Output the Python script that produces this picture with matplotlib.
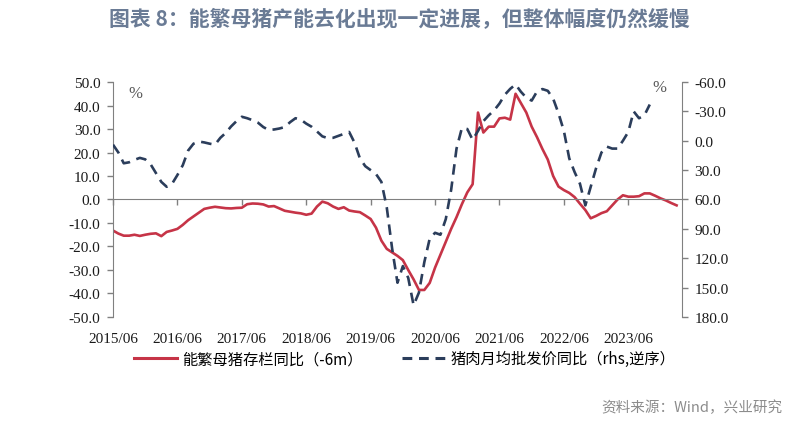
import matplotlib
matplotlib.use("Agg")
import matplotlib.pyplot as plt
from matplotlib.lines import Line2D

plt.rcParams['font.family'] = ['Noto Sans CJK SC', 'DejaVu Sans']

# months since 2015/06
year_labels = ['2015/06', '2016/06', '2017/06', '2018/06', '2019/06',
               '2020/06', '2021/06', '2022/06', '2023/06']
year_ticks = [12 * i for i in range(len(year_labels))]

# 能繁母猪存栏同比（-6m），左轴
sow_yoy = [
    -13.2, -14.5, -15.4, -15.4, -15.0, -15.5, -15.0, -14.6, -14.4, -15.6,
    -13.8, -13.2, -12.5, -10.8, -8.8, -7.2, -5.6, -4.0, -3.5, -3.1,
    -3.4, -3.7, -3.8, -3.6, -3.5, -2.0, -1.7, -1.8, -2.1, -3.0,
    -2.8, -3.8, -4.8, -5.2, -5.6, -5.9, -6.5, -6.0, -3.0, -0.9,
    -1.6, -3.0, -4.0, -3.3, -4.7, -5.1, -5.4, -6.8, -8.3, -12.0,
    -17.5, -21.0, -22.5, -24.0, -25.8, -30.0, -34.0, -38.5, -38.5, -35.5,
    -29.0, -23.5, -18.0, -12.5, -7.5, -2.0, 3.0, 6.5, 37.0, 28.5,
    31.0, 31.0, 34.5, 34.8, 34.0, 45.0, 41.0, 37.0, 31.0, 26.5,
    21.5, 17.0, 10.0, 5.5, 4.0, 2.8, 1.0, -1.8, -4.5, -8.0,
    -7.0, -5.8, -5.0, -2.5, 0.0, 1.8, 1.2, 1.2, 1.4, 2.6,
    2.6, 1.6, 0.5, -0.4, -1.5, -2.5,
]

# 猪肉月均批发价同比（rhs, 逆序）
pork_yoy = [
    4, 12, 23, 22, 19.5, 17.5, 19, 24, 33, 42,
    47, 44, 35, 25, 10, 3, 0.8, 1.7, 3, 4,
    -3, -8, -14.6, -20, -24.5, -23, -21, -18.5, -14, -11,
    -11.5, -12.5, -14, -19, -23, -21.5, -17.5, -14.3, -9.5, -4.5,
    -2.7, -3, -5, -7, -9, 2, 18, 26, 30, 34,
    42, 68, 110, 145, 128, 140, 168, 155, 124, 100,
    94, 96, 80, 50, 8, -13, -12, -1, -10, -20,
    -26, -31, -38, -47, -53, -57.5, -50, -44, -41, -50.4,
    -52.8, -51, -43, -28, -10, 18, 32, 44, 66, 47,
    28, 12, 6, 8, 8, 0, -9, -30, -23, -26,
    -37,
]

left_ticks = [-50, -40, -30, -20, -10, 0, 10, 20, 30, 40, 50]
right_ticks = [-60, -30, 0, 30, 60, 90, 120, 150, 180]

red = '#c63447'
navy = '#2b3d5b'
axis_gray = '#808080'
serif = 'Liberation Serif'

fig = plt.figure(figsize=(7.98, 4.27), dpi=100)
ax = fig.add_axes([0.1416, 0.2553, 0.713, 0.5503])
ax2 = ax.twinx()

ax.plot(range(len(sow_yoy)), sow_yoy, color=red, lw=1.9, solid_joinstyle='round')
ax2.plot(range(len(pork_yoy)), pork_yoy, color=navy, lw=1.9, dashes=(4, 2.6))

ax.set_xlim(0, 106)
ax.set_ylim(-50, 50)
ax2.set_ylim(180, -60)

# left axis
ax.set_yticks(left_ticks)
ax.set_yticklabels([f'{v:.1f}' for v in left_ticks], fontfamily=serif, fontsize=11)
ax.tick_params(axis='y', direction='out', length=4, width=1, color=axis_gray, pad=5, labelcolor='#1a1a1a')

# right axis
ax2.set_yticks(right_ticks)
ax2.set_yticklabels([f'{v:.1f}' for v in right_ticks], fontfamily=serif, fontsize=11)
ax2.tick_params(axis='y', direction='out', length=4, width=1, color=axis_gray, pad=5, labelcolor='#1a1a1a')

# horizontal axis line at zero with yearly ticks
ax.spines['bottom'].set_position(('data', 0))
ax.spines['bottom'].set_color(axis_gray)
ax.set_xticks(year_ticks)
ax.tick_params(axis='x', direction='out', length=4, width=1, color=axis_gray, labelbottom=False)

# date labels along the bottom of the plot
ax2.xaxis.set_visible(True)
ax2.set_xticks(year_ticks)
ax2.set_xticklabels(year_labels, fontfamily=serif, fontsize=11)
ax2.tick_params(axis='x', length=0, pad=11, labelcolor='#1a1a1a', top=False, labeltop=False,
                bottom=True, labelbottom=True)

for a in (ax, ax2):
    a.spines['top'].set_visible(False)
ax2.spines['bottom'].set_visible(False)
ax.spines['left'].set_color(axis_gray)
ax2.spines['left'].set_visible(False)
ax.spines['right'].set_visible(False)
ax2.spines['right'].set_color(axis_gray)

ax.text(0.039, 0.955, '%', transform=ax.transAxes, fontfamily=serif, fontsize=12,
        color='#595959', ha='center', va='center')
ax.text(0.961, 0.977, '%', transform=ax.transAxes, fontfamily=serif, fontsize=12,
        color='#595959', ha='center', va='center')

handles = [
    Line2D([], [], color=red, lw=2.2),
    Line2D([], [], color=navy, lw=2.2, dashes=(3.2, 2.2)),
]
fig.legend(handles, ['能繁母猪存栏同比（-6m）', '猪肉月均批发价同比（rhs,逆序）'],
           loc='center', bbox_to_anchor=(0.507, 0.157), ncol=2, frameon=False,
           fontsize=11, handlelength=2.8, handletextpad=0.35, columnspacing=2.6)

fig.text(0.5, 0.953, '图表 8：能繁母猪产能去化出现一定进展，但整体幅度仍然缓慢',
         ha='center', va='center', fontsize=15, fontweight='bold', color='#6a7b95')
fig.text(0.981, 0.044, '资料来源：Wind，兴业研究', ha='right', va='center',
         fontsize=10.5, color='#8c8c8c')

fig.savefig('out.png', dpi=100)
